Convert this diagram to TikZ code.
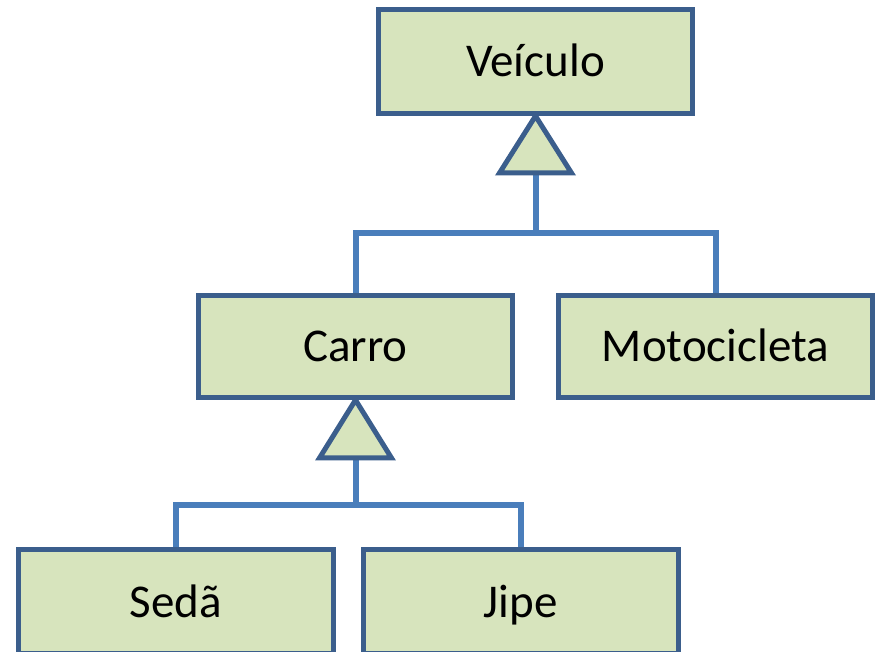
\documentclass[tikz,border=0pt]{standalone}
\usepackage{fontspec}
\setmainfont{Carlito}
\definecolor{boxfill}{HTML}{D7E4BD}
\definecolor{boxline}{HTML}{3B5E8C}
\definecolor{connline}{HTML}{4A7EBB}
\begin{document}
\begin{tikzpicture}[x=1pt,y=-1pt,
  cls/.style={draw=boxline, fill=boxfill, line width=5pt, rectangle,
    minimum width=314pt, inner sep=0pt, text height=31pt, text depth=0pt,
    font=\fontsize{47}{50}\selectfont},
  gen/.style={draw=boxline, fill=boxfill, line width=5pt, line join=miter},
  conn/.style={draw=connline, line width=6pt}]
\path[use as bounding box, clip] (0,0) rectangle (879,652);

\node[cls, minimum height=104pt] (veic) at (535.5,61.5) {Veículo};
\node[cls, minimum height=102pt] (carro) at (355.5,346.5) {Carro};
\node[cls, minimum height=102pt] (moto) at (715.5,346.5) {Motocicleta};
\node[cls, minimum height=104pt, minimum width=314.5pt] (seda) at (175.75,601.7) {Sedã};
\node[cls, minimum height=104pt, minimum width=315pt] (jipe) at (520.8,601.7) {Jipe};

% generalization from Veiculo
\coordinate (t1) at (535.5,173);
\coordinate (j1) at (535.5,233.5);
\draw[conn] (t1) -- (j1);
\draw[conn] (carro.north) |- (j1) -| (moto.north);
\draw[gen] (veic.south) -- (571.5,173) -- (499.5,173) -- cycle;

% generalization from Carro
\coordinate (t2) at (355.5,458);
\coordinate (j2) at (355.5,504.5);
\draw[conn] (t2) -- (j2);
\draw[conn] (seda.north) |- (j2) -| (jipe.north);
\draw[gen] (carro.south) -- (391.5,458) -- (319.5,458) -- cycle;
\end{tikzpicture}
\end{document}
